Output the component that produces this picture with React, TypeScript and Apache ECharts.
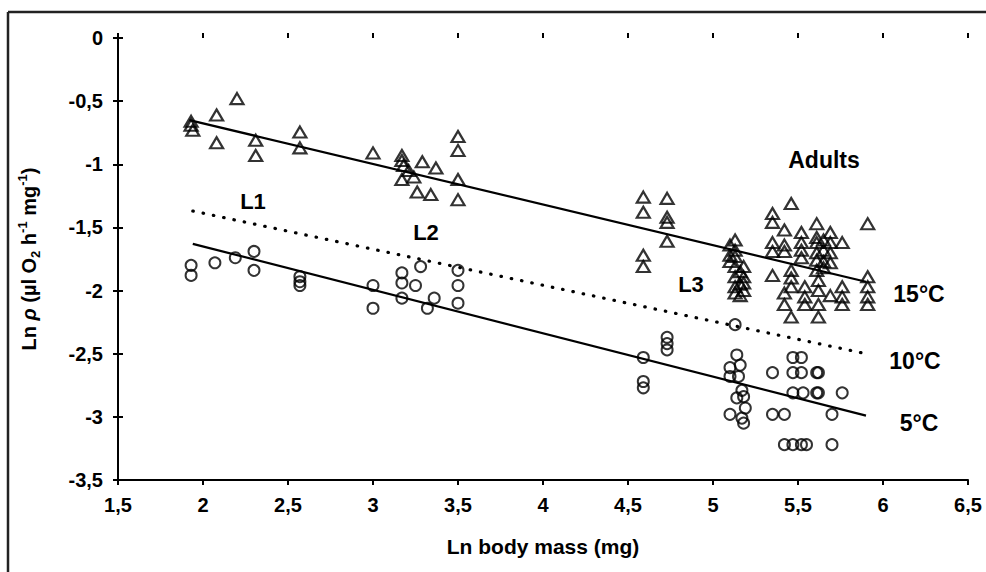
import React, { useEffect, useRef } from 'react';
import * as echarts from 'echarts';

// Axis ranges and tick spacing
const X_MIN = 1.5;
const X_MAX = 6.5;
const Y_MIN = -3.5;
const Y_MAX = 0;
const TICK_STEP = 0.5;

// Oxygen consumption at 15°C (triangles): [ln body mass, ln rate]
const temp15L1 = [
  [1.93, -0.66], [1.93, -0.69], [1.94, -0.73], [2.08, -0.61], [2.08, -0.83],
  [2.2, -0.48], [2.31, -0.81], [2.31, -0.93], [2.57, -0.745], [2.57, -0.87],
];
const temp15L2 = [
  [3.0, -0.91], [3.17, -0.93], [3.17, -0.97], [3.18, -1.01], [3.17, -1.12],
  [3.24, -1.1], [3.21, -1.05], [3.29, -0.98], [3.37, -1.03], [3.26, -1.22],
  [3.34, -1.24], [3.5, -0.78], [3.5, -0.89], [3.5, -1.12], [3.5, -1.28],
];
const temp15L3 = [
  [4.59, -1.26], [4.59, -1.38], [4.59, -1.72], [4.59, -1.81],
  [4.73, -1.27], [4.73, -1.42], [4.73, -1.46], [4.73, -1.61],
];
const temp15Adults = [
  [5.1, -1.64], [5.1, -1.72], [5.1, -1.77],
  [5.13, -1.6], [5.13, -1.68], [5.13, -1.73], [5.13, -1.81], [5.13, -1.89], [5.13, -1.97], [5.13, -2.02],
  [5.16, -1.85], [5.16, -1.95], [5.16, -2.04],
  [5.18, -1.81], [5.18, -1.89], [5.18, -1.94], [5.18, -2.0],
  [5.35, -1.39], [5.35, -1.46], [5.35, -1.62], [5.35, -1.69], [5.35, -1.88],
  [5.46, -1.31], [5.46, -1.84], [5.46, -1.9], [5.46, -1.97], [5.46, -2.21],
  [5.42, -1.52], [5.42, -1.64], [5.42, -1.69], [5.42, -2.02], [5.42, -2.11],
  [5.52, -1.54], [5.52, -1.62], [5.52, -1.68], [5.52, -1.74],
  [5.54, -1.97], [5.54, -2.05], [5.54, -2.11],
  [5.61, -1.47], [5.61, -1.58], [5.61, -1.62], [5.61, -1.7], [5.61, -1.76], [5.61, -1.84],
  [5.62, -1.92], [5.62, -2.0], [5.62, -2.11], [5.62, -2.21],
  [5.65, -1.6], [5.65, -1.68], [5.65, -1.77], [5.65, -1.82],
  [5.69, -1.54], [5.69, -1.62], [5.69, -1.7], [5.69, -1.78], [5.69, -2.04],
  [5.76, -1.62], [5.76, -1.97], [5.76, -2.05], [5.76, -2.11],
  [5.91, -1.47], [5.91, -1.89], [5.91, -1.97], [5.91, -2.05], [5.91, -2.11],
];

// Oxygen consumption at 5°C (circles)
const temp5L1 = [
  [1.93, -1.8], [1.93, -1.88], [2.07, -1.78], [2.19, -1.74], [2.3, -1.69],
  [2.3, -1.84], [2.57, -1.89], [2.57, -1.93], [2.57, -1.96],
];
const temp5L2 = [
  [3.0, -1.96], [3.0, -2.14], [3.17, -1.86], [3.17, -1.94], [3.17, -2.06],
  [3.25, -1.96], [3.28, -1.81], [3.32, -2.14], [3.36, -2.06],
  [3.5, -1.84], [3.5, -1.96], [3.5, -2.1],
];
const temp5L3 = [
  [4.59, -2.53], [4.59, -2.72], [4.59, -2.77],
  [4.73, -2.37], [4.73, -2.42], [4.73, -2.47],
];
const temp5Adults = [
  [5.13, -2.27], [5.14, -2.51], [5.16, -2.59], [5.1, -2.61], [5.1, -2.68], [5.15, -2.68],
  [5.17, -2.79], [5.18, -2.84], [5.14, -2.85], [5.19, -2.93], [5.1, -2.98], [5.17, -3.01], [5.18, -3.05],
  [5.35, -2.65], [5.35, -2.98], [5.42, -2.98],
  [5.47, -2.53], [5.52, -2.53], [5.47, -2.65], [5.52, -2.65], [5.47, -2.81], [5.53, -2.81],
  [5.61, -2.65], [5.62, -2.65], [5.61, -2.81], [5.62, -2.81], [5.76, -2.81], [5.7, -2.98],
  [5.42, -3.22], [5.47, -3.22], [5.52, -3.22], [5.55, -3.22], [5.7, -3.22],
];

// Fitted regression lines (end points) for each temperature
const fit15 = [[1.92, -0.65], [5.9, -1.93]];
const fit10 = [[1.94, -1.37], [5.9, -2.5]];
const fit5 = [[1.94, -1.63], [5.9, -2.99]];

// Text annotations
const stageLabels = [
  { text: 'L1', x: 253, y: 201 },
  { text: 'L2', x: 426, y: 232 },
  { text: 'L3', x: 691, y: 284 },
  { text: 'Adults', x: 824, y: 160 },
];
const tempLabels = [
  { text: '15°C', x: 919, y: 294 },
  { text: '10°C', x: 915, y: 361 },
  { text: '5°C', x: 919, y: 423 },
];

const FONT = '"Liberation Sans", Arial, Helvetica, sans-serif';
const commaFmt = (v: number) => String(v).replace('.', ',');

export default function App() {
  const ref = useRef<HTMLDivElement>(null);

  useEffect(() => {
    if (!ref.current) return;
    const chart = echarts.init(ref.current, undefined, { renderer: 'svg' });

    const tickLabel = {
      fontFamily: FONT,
      fontWeight: 'bold' as const,
      fontSize: 20,
      color: '#000',
    };

    const baseX = {
      type: 'value' as const,
      min: X_MIN,
      max: X_MAX,
      interval: TICK_STEP,
      splitLine: { show: false },
    };
    const baseY = {
      type: 'value' as const,
      min: Y_MIN,
      max: Y_MAX,
      interval: TICK_STEP,
      splitLine: { show: false },
    };

    const triangle = {
      type: 'scatter' as const,
      symbol: 'triangle',
      symbolSize: [13, 11],
      itemStyle: { color: 'rgba(255,255,255,0)', borderColor: '#000', borderWidth: 2.2 },
      z: 3,
    };
    const circle = {
      type: 'scatter' as const,
      symbol: 'circle',
      symbolSize: 11,
      itemStyle: { color: 'rgba(255,255,255,0)', borderColor: '#000', borderWidth: 2 },
      z: 3,
    };
    const fitLine = (data: number[][], dotted: boolean) => ({
      type: 'line' as const,
      data,
      showSymbol: false,
      symbol: 'none',
      lineStyle: dotted
        ? { color: '#000', width: 3.2, type: [0.5, 10], cap: 'round' as const }
        : { color: '#000', width: 2.2 },
      z: 2,
    });

    const textStyle = (size: number) => ({
      fontFamily: FONT,
      fontWeight: 'bold' as const,
      fontSize: size,
      fill: '#000',
      textAlign: 'center' as const,
      textVerticalAlign: 'middle' as const,
    });

    chart.setOption({
      animation: false,
      backgroundColor: '#fff',
      grid: { left: 118, right: 18, top: 38, bottom: 92 },
      xAxis: [
        {
          ...baseX,
          position: 'bottom',
          name: 'Ln body mass (mg)',
          nameLocation: 'middle',
          nameGap: 56,
          nameTextStyle: { fontFamily: FONT, fontWeight: 'bold', fontSize: 21, color: '#000' },
          axisLine: { show: true, onZero: false, lineStyle: { color: '#000', width: 2 } },
          axisTick: { show: true, length: 5, lineStyle: { color: '#000', width: 2 } },
          axisLabel: { ...tickLabel, margin: 15, formatter: commaFmt },
        },
        {
          ...baseX,
          position: 'bottom',
          axisLine: { show: false },
          axisTick: { show: true, inside: true, length: 5, lineStyle: { color: '#000', width: 2 } },
          axisLabel: { show: false },
        },
      ],
      yAxis: [
        {
          ...baseY,
          position: 'left',
          name: '{a|Ln }{i|ρ}{a| (µl O}{sub|2}{a| h}{sup|-1}{a| mg}{sup|-1}{a|)}',
          nameLocation: 'middle',
          nameGap: 76,
          nameTextStyle: {
            fontFamily: FONT,
            fontWeight: 'bold',
            fontSize: 20,
            color: '#000',
            rich: {
              a: { fontFamily: FONT, fontWeight: 'bold', fontSize: 20, lineHeight: 26, color: '#000' },
              i: { fontFamily: FONT, fontWeight: 'bold', fontStyle: 'italic', fontSize: 20, lineHeight: 26, color: '#000' },
              sup: { fontFamily: FONT, fontWeight: 'bold', fontSize: 13, lineHeight: 14, verticalAlign: 'top', color: '#000' },
              sub: { fontFamily: FONT, fontWeight: 'bold', fontSize: 13, lineHeight: 14, verticalAlign: 'bottom', color: '#000' },
            },
          },
          axisLine: { show: true, onZero: false, lineStyle: { color: '#000', width: 2 } },
          axisTick: { show: true, length: 5, lineStyle: { color: '#000', width: 2 } },
          axisLabel: { ...tickLabel, margin: 15, formatter: commaFmt },
        },
        {
          ...baseY,
          position: 'left',
          axisLine: { show: false },
          axisTick: { show: true, inside: true, length: 5, lineStyle: { color: '#000', width: 2 } },
          axisLabel: { show: false },
        },
      ],
      series: [
        fitLine(fit15, false),
        fitLine(fit10, true),
        fitLine(fit5, false),
        { ...triangle, name: '15°C L1', data: temp15L1 },
        { ...triangle, name: '15°C L2', data: temp15L2 },
        { ...triangle, name: '15°C L3', data: temp15L3 },
        { ...triangle, name: '15°C Adults', data: temp15Adults },
        { ...circle, name: '5°C L1', data: temp5L1 },
        { ...circle, name: '5°C L2', data: temp5L2 },
        { ...circle, name: '5°C L3', data: temp5L3 },
        { ...circle, name: '5°C Adults', data: temp5Adults },
      ],
      graphic: [
        // outer frame: top and left edges
        { type: 'line', shape: { x1: 8, y1: 12, x2: 986, y2: 12 }, style: { stroke: '#222', lineWidth: 2.5 } },
        { type: 'line', shape: { x1: 8, y1: 12, x2: 8, y2: 572 }, style: { stroke: '#222', lineWidth: 2.5 } },
        ...stageLabels.map((l) => ({
          type: 'text',
          x: l.x,
          y: l.y,
          style: { text: l.text, ...textStyle(l.text === 'Adults' ? 23 : 22) },
        })),
        ...tempLabels.map((l) => ({
          type: 'text',
          x: l.x,
          y: l.y,
          style: { text: l.text, ...textStyle(23) },
        })),
      ],
    });

    return () => chart.dispose();
  }, []);

  return (
    <div
      ref={ref}
      style={{ position: 'fixed', left: 0, top: 0, width: 986, height: 572, background: '#fff' }}
    />
  );
}
